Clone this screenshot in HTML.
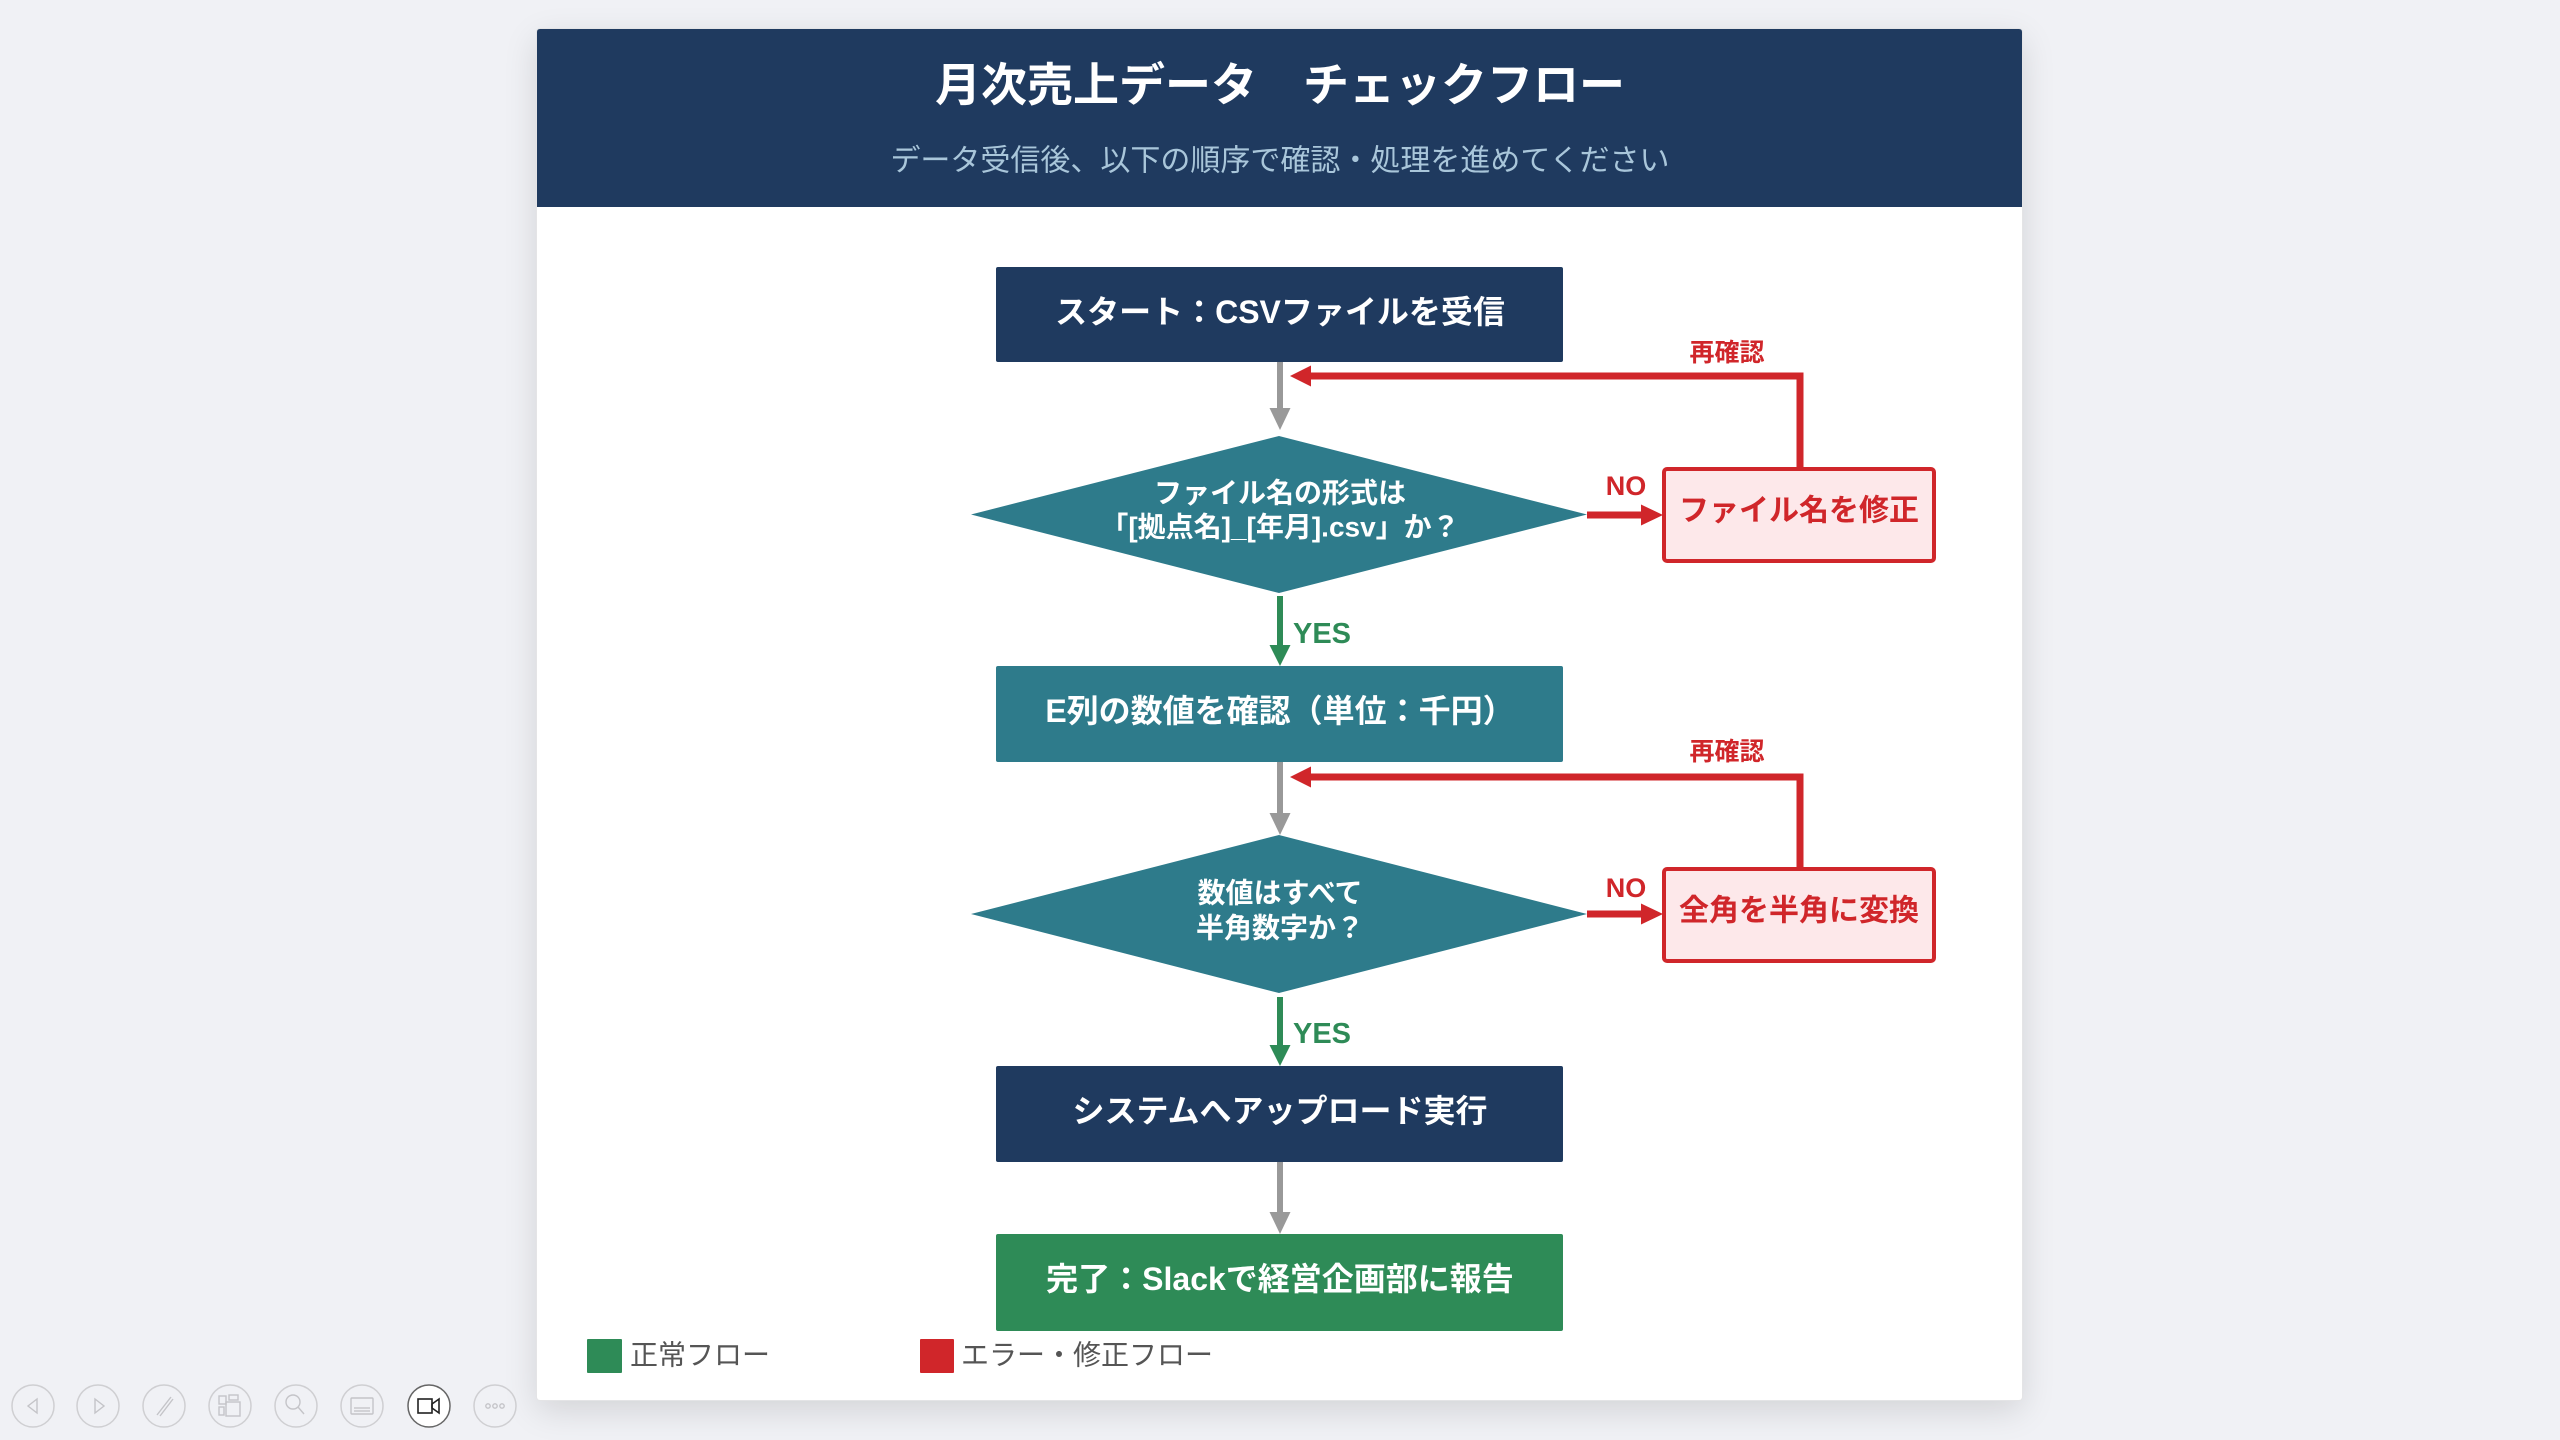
<!DOCTYPE html>
<html lang="ja">
<head>
<meta charset="utf-8">
<style>
  html,body{margin:0;padding:0;}
  body{width:2560px;height:1440px;overflow:hidden;background:#f0f1f5;position:relative;
       font-family:"Liberation Sans","Noto Sans CJK JP",sans-serif;}
  .card{position:absolute;left:537px;top:29px;width:1485px;height:1371px;background:#fff;
        box-shadow:0 0 0 1px #e4e4e6, 0 10px 34px rgba(0,0,0,0.13);border-radius:3px;}
  svg{position:absolute;left:0;top:0;}
  text{font-family:"Liberation Sans","Noto Sans CJK JP",sans-serif;}
</style>
</head>
<body>
<div class="card"></div>
<svg width="2560" height="1440" viewBox="0 0 2560 1440" xmlns="http://www.w3.org/2000/svg">
  <!-- header -->
  <path d="M540 29 H2019 Q2022 29 2022 32 V207 H537 V32 Q537 29 540 29 Z" fill="#1f3a5f"/>
  <text x="1280" y="85" text-anchor="middle" dominant-baseline="central" font-size="46" font-weight="bold" fill="#ffffff">月次売上データ　チェックフロー</text>
  <text x="1280" y="161" text-anchor="middle" dominant-baseline="central" font-size="30" fill="#a9c6da">データ受信後、以下の順序で確認・処理を進めてください</text>

  <!-- process boxes -->
  <rect x="996" y="267" width="567" height="95" rx="2" fill="#1f3a5f"/>
  <text x="1280" y="312" text-anchor="middle" dominant-baseline="central" font-size="32" font-weight="bold" fill="#fff">スタート：CSVファイルを受信</text>

  <rect x="996" y="666" width="567" height="96" rx="2" fill="#2e7b8b"/>
  <text x="1280" y="711" text-anchor="middle" dominant-baseline="central" font-size="32" font-weight="bold" fill="#fff">E列の数値を確認（単位：千円）</text>

  <rect x="996" y="1066" width="567" height="96" rx="2" fill="#1f3a5f"/>
  <text x="1280" y="1111" text-anchor="middle" dominant-baseline="central" font-size="32" font-weight="bold" fill="#fff">システムへアップロード実行</text>

  <rect x="996" y="1234" width="567" height="97" rx="2" fill="#2e8b57"/>
  <text x="1280" y="1279" text-anchor="middle" dominant-baseline="central" font-size="32" font-weight="bold" fill="#fff">完了：Slackで経営企画部に報告</text>

  <!-- diamonds -->
  <polygon points="1279,436 1587,514.5 1279,593 971,514.5" fill="#2e7b8b"/>
  <text x="1280" y="493" text-anchor="middle" dominant-baseline="central" font-size="28" font-weight="bold" fill="#fff">ファイル名の形式は</text>
  <text x="1280" y="527" text-anchor="middle" dominant-baseline="central" font-size="28" font-weight="bold" fill="#fff">「[拠点名]_[年月].csv」か？</text>

  <polygon points="1279,835 1587,914 1279,993 971,914" fill="#2e7b8b"/>
  <text x="1280" y="893" text-anchor="middle" dominant-baseline="central" font-size="28" font-weight="bold" fill="#fff">数値はすべて</text>
  <text x="1280" y="928" text-anchor="middle" dominant-baseline="central" font-size="28" font-weight="bold" fill="#fff">半角数字か？</text>

  <!-- red boxes -->
  <rect x="1664" y="469" width="270" height="92" rx="3" fill="#fde8ea" stroke="#d0262a" stroke-width="4"/>
  <text x="1799" y="511" text-anchor="middle" dominant-baseline="central" font-size="30" font-weight="bold" fill="#d0262a">ファイル名を修正</text>

  <rect x="1664" y="869" width="270" height="92" rx="3" fill="#fde8ea" stroke="#d0262a" stroke-width="4"/>
  <text x="1799" y="911" text-anchor="middle" dominant-baseline="central" font-size="30" font-weight="bold" fill="#d0262a">全角を半角に変換</text>

  <!-- gray connectors -->
  <g fill="#999999">
    <rect x="1277" y="362" width="6" height="48"/>
    <polygon points="1269.5,408 1290.5,408 1280,430"/>
    <rect x="1277" y="762" width="6" height="53"/>
    <polygon points="1269.5,813 1290.5,813 1280,835"/>
    <rect x="1277" y="1162" width="6" height="52"/>
    <polygon points="1269.5,1212 1290.5,1212 1280,1234"/>
  </g>

  <!-- green YES connectors -->
  <g fill="#2e8b57">
    <rect x="1277" y="596" width="6" height="51"/>
    <polygon points="1269.5,645 1290.5,645 1280,666"/>
    <rect x="1277" y="997" width="6" height="50"/>
    <polygon points="1269.5,1045 1290.5,1045 1280,1066"/>
  </g>
  <text x="1293" y="634" dominant-baseline="central" font-size="29" font-weight="bold" fill="#2e8b57">YES</text>
  <text x="1293" y="1034" dominant-baseline="central" font-size="29" font-weight="bold" fill="#2e8b57">YES</text>

  <!-- red NO connectors -->
  <g fill="#d0262a">
    <rect x="1587" y="511.5" width="56" height="7"/>
    <polygon points="1641,504.5 1641,525.5 1663,515"/>
    <rect x="1587" y="910.5" width="56" height="7"/>
    <polygon points="1641,903.5 1641,924.5 1663,914"/>
  </g>
  <text x="1626" y="486" text-anchor="middle" dominant-baseline="central" font-size="27" font-weight="bold" fill="#d0262a">NO</text>
  <text x="1626" y="888" text-anchor="middle" dominant-baseline="central" font-size="27" font-weight="bold" fill="#d0262a">NO</text>

  <!-- red return loops -->
  <g fill="#d0262a">
    <rect x="1796.5" y="372.5" width="7" height="96"/>
    <rect x="1309" y="372.5" width="494.5" height="7"/>
    <polygon points="1311,365.5 1311,386.5 1290,376"/>
    <rect x="1796.5" y="773.5" width="7" height="95"/>
    <rect x="1309" y="773.5" width="494.5" height="7"/>
    <polygon points="1311,766.5 1311,787.5 1290,777"/>
  </g>
  <text x="1727" y="353" text-anchor="middle" dominant-baseline="central" font-size="25" font-weight="bold" fill="#d0262a">再確認</text>
  <text x="1727" y="752" text-anchor="middle" dominant-baseline="central" font-size="25" font-weight="bold" fill="#d0262a">再確認</text>

  <!-- legend -->
  <rect x="587" y="1339" width="35" height="34" rx="1" fill="#2e8b57"/>
  <text x="630" y="1355" dominant-baseline="central" font-size="28" fill="#555555">正常フロー</text>
  <rect x="920" y="1339" width="34" height="34" rx="1" fill="#d0262a"/>
  <text x="961" y="1355" dominant-baseline="central" font-size="28" fill="#555555">エラー・修正フロー</text>

  <!-- bottom toolbar -->
  <g fill="none" stroke="#cfcfd2" stroke-width="1.5">
    <circle cx="33" cy="1406" r="21"/>
    <circle cx="98" cy="1406" r="21"/>
    <circle cx="164" cy="1406" r="21"/>
    <circle cx="230" cy="1406" r="21"/>
    <circle cx="296" cy="1406" r="21"/>
    <circle cx="362" cy="1406" r="21"/>
    <circle cx="495" cy="1406" r="21"/>
  </g>
  <circle cx="429" cy="1406" r="21" fill="#ffffff" stroke="#666" stroke-width="1.5"/>
  <g fill="none" stroke="#c4c4c8" stroke-width="1.4">
    <polygon points="37,1399 37,1413 28,1406"/>
    <polygon points="95,1399 95,1413 104,1406"/>
    <line x1="157" y1="1415" x2="171" y2="1397"/>
    <line x1="160" y1="1416" x2="173" y2="1399"/>
    <rect x="219" y="1396" width="7" height="8"/>
    <rect x="229" y="1395" width="9" height="5"/>
    <rect x="226" y="1402" width="14" height="14"/>
    <rect x="219" y="1407" width="5" height="8"/>
    <circle cx="293" cy="1402" r="7"/>
    <line x1="298" y1="1407" x2="304" y2="1414"/>
    <rect x="351" y="1398" width="22" height="16" rx="1"/>
    <line x1="354" y1="1408" x2="370" y2="1408"/>
    <line x1="354" y1="1411" x2="370" y2="1411"/>
    <circle cx="488" cy="1406" r="2.2"/>
    <circle cx="495" cy="1406" r="2.2"/>
    <circle cx="502" cy="1406" r="2.2"/>
  </g>
  <g fill="none" stroke="#222" stroke-width="1.6">
    <rect x="418" y="1399" width="14" height="14"/>
    <polygon points="432,1404 439,1399 439,1413 432,1408"/>
  </g>
</svg>
</body>
</html>
